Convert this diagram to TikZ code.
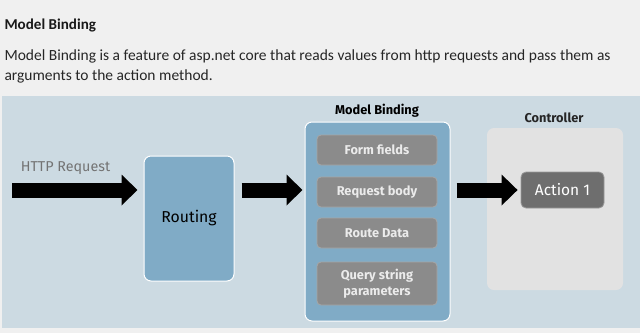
\documentclass[tikz,border=0pt]{standalone}
\usepackage{fontspec}
\setmainfont{Carlito}
\newfontfamily\diagfont{Fira Sans}
\usetikzlibrary{arrows.meta, positioning}
\definecolor{pagebg}{RGB}{240,240,240}
\definecolor{panelblue}{RGB}{204,218,226}
\definecolor{stageblue}{RGB}{128,171,198}
\definecolor{srcgray}{RGB}{139,139,139}
\definecolor{ctrlgray}{RGB}{226,226,226}
\definecolor{actgray}{RGB}{110,110,110}

\begin{document}
\begin{tikzpicture}[x=1pt, y=-1pt,
  stage/.style={draw=white, line width=1pt, fill=stageblue, rounded corners=7pt,
                font=\diagfont\fontsize{15.8}{18}\selectfont},
  source/.style={draw=gray!70, line width=0.8pt, fill=srcgray, rounded corners=4pt,
                 minimum width=120pt, text=white!92!black, align=center,
                 font=\diagfont\bfseries\fontsize{12.8}{16.5}\selectfont},
  caption/.style={font=\diagfont\bfseries\fontsize{12.8}{14}\selectfont},
  arr/.style={-{Triangle[length=16pt, width=30pt]}, line width=15pt, black}
]
  \useasboundingbox[fill=pagebg] (0,0) rectangle (640,333);
  \fill[panelblue] (2,96) rectangle (640,328);

  % heading and text
  \node[anchor=base west, font=\bfseries\fontsize{15.1}{17}\selectfont, text=black!90] (title) at (1,29) {Model Binding};
  \node[anchor=north west, align=left, font=\fontsize{15.5}{20}\selectfont, text=black!85] (intro) at (1,46)
    {Model Binding is a feature of asp.net core that reads values from http requests and pass them as\\arguments to the action method.};

  % stages
  \node[stage, minimum width=90pt, minimum height=125pt] (routing) at (189,218.5) {Routing};
  \node[stage, minimum width=145pt, minimum height=199pt] (binding) at (377.5,221.5) {};
  \node[caption] (bindlabel) at (377,111) {Model Binding};
  \node[source, minimum height=30pt] (form) at (377,150) {Form fields};
  \node[source, minimum height=30pt] (body) at (377,192) {Request body};
  \node[source, minimum height=30pt] (route) at (377,233) {Route Data};
  \node[source, minimum height=43pt] (query) at (377,283.5) {Query string\\parameters};

  \node[fill=ctrlgray, rounded corners=7pt, minimum width=136pt, minimum height=162pt] (ctrl) at (555,209) {};
  \node[caption, text=black!85] (ctrllabel) at (554,118) {Controller};
  \node[draw=gray!80, line width=0.8pt, fill=actgray, rounded corners=5pt, minimum width=83pt,
        minimum height=36pt, text=white, font=\diagfont\fontsize{15.5}{18}\selectfont] (action) at (562.5,190) {Action 1};

  % request flow
  \coordinate (req) at (12,190);
  \node[font=\diagfont\fontsize{14.3}{16}\selectfont, text=black!55] (reqlabel) at (65.5,168) {HTTP Request};

  \draw[arr, shorten >=6pt] (req) -- (req -| routing.west);
  \draw[arr, shorten <=7pt, shorten >=2pt] (req -| routing.east) -- (req -| binding.west);
  \draw[arr, shorten <=6pt, shorten >=3pt] (req -| binding.east) -- (action.west);
\end{tikzpicture}
\end{document}
